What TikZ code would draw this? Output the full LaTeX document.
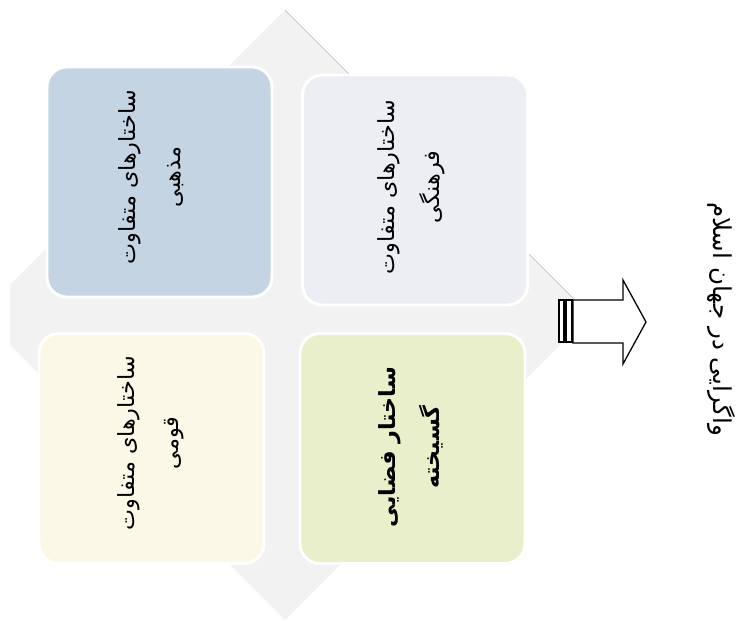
\documentclass[tikz,border=0pt]{standalone}
\usepackage{fontspec}
\usepackage{xcolor}
\newfontfamily\arabicfont[Script=Arabic]{DejaVu Sans}
\TeXXeTstate=1

\definecolor{diamondgray}{RGB}{242,242,242}
\definecolor{quadblue}{RGB}{197,212,227}
\definecolor{quadlilac}{RGB}{237,238,243}
\definecolor{quadcream}{RGB}{251,248,231}
\definecolor{quadgreen}{RGB}{234,239,203}

\tikzset{
  quad/.style={draw=white, line width=2.5pt, rounded corners=0.6cm,
    minimum width=6.75cm, minimum height=6.9cm, inner sep=0pt},
  quadtext/.style={rotate=90, align=center,
    font=\arabicfont\fontsize{19}{38}\selectfont},
  arrowline/.style={draw=black, fill=white, line width=1.1pt, line join=miter}
}

\begin{document}
\begin{tikzpicture}[x=0.03cm,y=-0.03cm]
\useasboundingbox (0,0) rectangle (742,621);

% background diamond:
\begin{scope}
\clip (10,0) rectangle (742,621);
\fill[diamondgray] (285,10) -- (590,315) -- (285,620) -- (-20,315) -- cycle;
\draw[gray!55, line width=0.5pt] (285,10) -- (590,315);
\end{scope}

% four blocks:
\node[quad, fill=quadblue] (madhabi) at (159.5,182) {};
\node[quad, fill=quadlilac] (farhangi) at (415,190) {};
\node[quad, fill=quadcream] (qawmi) at (151.5,448.5) {};
\node[quad, fill=quadgreen] (fazai) at (412.5,448.5) {};

\node[quadtext] (madhabitxt) at (151,177)
  {\beginR ساختارهای متفاوت\endR\\\beginR مذهبی\endR};
\node[quadtext] (farhangitxt) at (411,187)
  {\beginR ساختارهای متفاوت\endR\\\beginR فرهنگی\endR};
\node[quadtext] (qawmitxt) at (151,443)
  {\beginR ساختارهای متفاوت\endR\\\beginR قومی\endR};
\node[quadtext, font=\arabicfont\bfseries\fontsize{19}{38}\selectfont] (fazaitxt) at (411,447)
  {\beginR ساختار فضایی\endR\\\beginR گسیخته\endR};

% striped arrow:
\draw[arrowline] (559,300) rectangle (564,342);
\draw[arrowline] (566,300) rectangle (572,342);
\draw[arrowline] (573,300) -- (623,300) -- (623,280) -- (646,322)
  -- (623,364) -- (623,343) -- (573,343) -- cycle;

% title:
\node[rotate=-90, font=\arabicfont\fontsize{21}{25}\selectfont] (title) at (722,319)
  {\beginR واگرایی در جهان اسلام\endR};

\end{tikzpicture}
\end{document}
